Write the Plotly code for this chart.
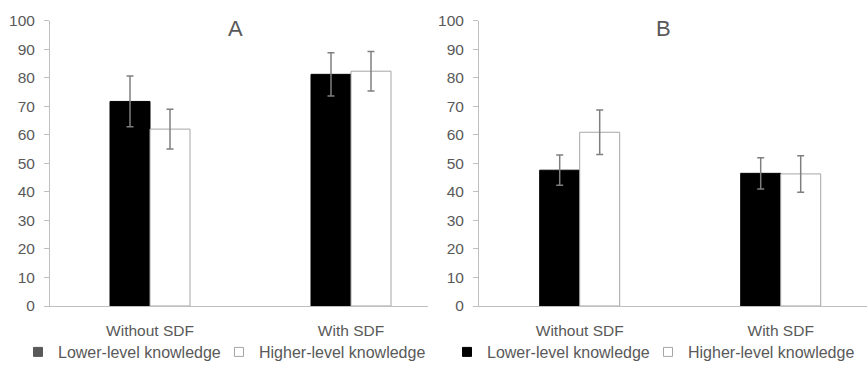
import plotly.graph_objects as go

categories = ["Without SDF", "With SDF"]
series_names = ["Lower-level knowledge", "Higher-level knowledge"]

a_lower = [71.7, 81.2]
a_lower_err = [8.9, 7.6]
a_higher = [62.0, 82.3]
a_higher_err = [7.0, 6.9]

b_lower = [47.6, 46.5]
b_lower_err = [5.3, 5.45]
b_higher = [60.9, 46.3]
b_higher_err = [7.8, 6.4]

panel_titles = ["A", "B"]
y_ticks = list(range(0, 101, 10))

W, H = 868, 367
FONT = "Liberation Sans, Arial, sans-serif"
TXT = "#595959"
AXC = "#bfbfbf"
ERRC = "#7f7f7f"
BW = 0.199

def px_x(p):
    return p / W

def px_y(p):
    return (H - p) / H

fig = go.Figure()

xpos = [0, 1]
panels = [
    (a_lower, a_lower_err, a_higher, a_higher_err, "x", "y"),
    (b_lower, b_lower_err, b_higher, b_higher_err, "x2", "y2"),
]
for lo, loe, hi, hie, xa, ya in panels:
    fig.add_trace(go.Bar(
        x=xpos, y=lo, width=BW, offset=-BW, xaxis=xa, yaxis=ya,
        marker=dict(color="black", line=dict(color="black", width=1)),
        error_y=dict(type="data", array=loe, color=ERRC, thickness=1.5, width=3.5),
        showlegend=False, name=series_names[0], hoverinfo="skip"))
    fig.add_trace(go.Bar(
        x=xpos, y=hi, width=BW, offset=0, xaxis=xa, yaxis=ya,
        marker=dict(color="white", line=dict(color="#a6a6a6", width=1)),
        error_y=dict(type="data", array=hie, color=ERRC, thickness=1.5, width=3.5),
        showlegend=False, name=series_names[1], hoverinfo="skip"))

# legend proxies
legend_colors = [("#595959", "#595959"), ("black", "black")]
for i, (lg, xa, ya) in enumerate([("legend", "x", "y"), ("legend2", "x2", "y2")]):
    fill, line = legend_colors[i]
    fig.add_trace(go.Scatter(x=[None], y=[None], mode="markers", xaxis=xa, yaxis=ya,
                             marker=dict(symbol="square", size=9, color=fill, line=dict(color=line, width=1)),
                             name=series_names[0], legend=lg, showlegend=True, legendwidth=156))
    fig.add_trace(go.Scatter(x=[None], y=[None], mode="markers", xaxis=xa, yaxis=ya,
                             marker=dict(symbol="square", size=9, color="white", line=dict(color="#a6a6a6", width=1)),
                             name=series_names[1], legend=lg, showlegend=True, legendwidth=166))

ydom = [px_y(306), px_y(20.7)]
common_y = dict(range=[0, 100], tickvals=y_ticks, showgrid=False, zeroline=False,
                showline=True, linecolor=AXC, linewidth=1, ticks="outside", ticklen=5,
                tickcolor=AXC, tickfont=dict(family=FONT, size=15.5, color=TXT),
                ticklabelstandoff=6, domain=ydom, fixedrange=True, automargin=False)
common_x = dict(tickvals=xpos, ticktext=categories, showgrid=False, zeroline=False,
                showline=True, linecolor=AXC, linewidth=1, ticks="",
                tickfont=dict(family=FONT, size=15.5, color=TXT), ticklabelstandoff=10,
                fixedrange=True, automargin=False)

leg_common = dict(orientation="h", xanchor="left", yanchor="middle",
                  font=dict(family=FONT, size=16, color=TXT), itemwidth=30,
                  bgcolor="rgba(0,0,0,0)", borderwidth=0)

fig.update_layout(
    width=W, height=H, margin=dict(l=0, r=0, t=0, b=0, autoexpand=False),
    paper_bgcolor="white", plot_bgcolor="white",
    barmode="overlay",
    xaxis=dict(common_x, domain=[px_x(50), px_x(428)], range=[(50 - 150) / 201, (428 - 150) / 201], anchor="y"),
    yaxis=dict(common_y, anchor="x"),
    xaxis2=dict(common_x, domain=[px_x(479), px_x(867)], range=[(479 - 579.7) / 201, (867 - 579.7) / 201], anchor="y2"),
    yaxis2=dict(common_y, anchor="x2"),
    legend=dict(leg_common, x=px_x(18), y=px_y(352)),
    legend2=dict(leg_common, x=px_x(447), y=px_y(352)),
    annotations=[
        dict(text=panel_titles[0], x=px_x(235), y=px_y(28), xref="paper", yref="paper",
             showarrow=False, font=dict(family=FONT, size=22, color=TXT), xanchor="center", yanchor="middle"),
        dict(text=panel_titles[1], x=px_x(663), y=px_y(28), xref="paper", yref="paper",
             showarrow=False, font=dict(family=FONT, size=22, color=TXT), xanchor="center", yanchor="middle"),
    ],
)

fig.write_html("out.html", config={"displayModeBar": False},
               post_script="document.body.style.margin='0';document.body.style.overflow='hidden';")
